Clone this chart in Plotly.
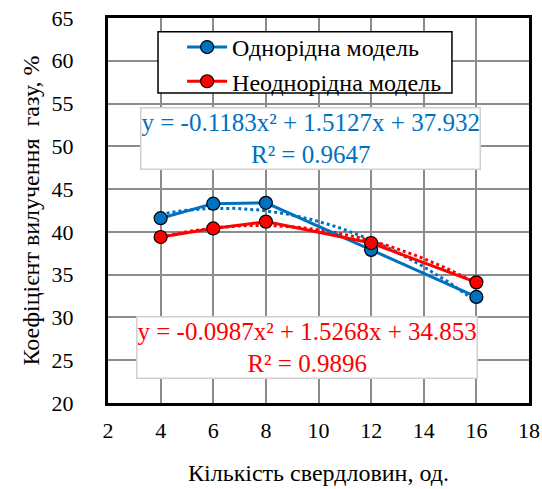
import numpy as np
import plotly.graph_objects as go

# Data
wells = [4, 6, 8, 12, 16]
homogeneous = [41.6, 43.3, 43.4, 37.9, 32.4]
heterogeneous = [39.4, 40.4, 41.2, 38.7, 34.1]
names = ["Однорідна модель", "Неоднорідна модель"]
# displayed trendline coefficients (a, b, c) for y = a x^2 + b x + c
coef_homog = [-0.1183, 1.5127, 37.932]
coef_heter = [-0.0987, 1.5268, 34.853]
r2_homog = 0.9647
r2_heter = 0.9896
x_ticks = [2, 4, 6, 8, 10, 12, 14, 16, 18]
y_ticks = [20, 25, 30, 35, 40, 45, 50, 55, 60, 65]

BLUE = "#0070C0"
RED = "#FF0000"
FONT = "Liberation Serif"

xt = np.linspace(min(wells), max(wells), 100)

def poly(c, x):
    return c[0] * x ** 2 + c[1] * x + c[2]

fig = go.Figure()
fig.add_trace(go.Scatter(x=xt, y=poly(coef_homog, xt), mode="lines",
                         line=dict(color=BLUE, width=3, dash="dot"),
                         showlegend=False, hoverinfo="skip"))
fig.add_trace(go.Scatter(x=xt, y=poly(coef_heter, xt), mode="lines",
                         line=dict(color=RED, width=3, dash="dot"),
                         showlegend=False, hoverinfo="skip"))
fig.add_trace(go.Scatter(x=wells, y=homogeneous, mode="lines+markers", name=names[0],
                         line=dict(color=BLUE, width=3),
                         marker=dict(size=13, color=BLUE, line=dict(color="black", width=1.2))))
fig.add_trace(go.Scatter(x=wells, y=heterogeneous, mode="lines+markers", name=names[1],
                         line=dict(color=RED, width=3),
                         marker=dict(size=13, color=RED, line=dict(color="black", width=1.2))))

def eq_text(c, r2):
    return (f"y = {c[0]:.4f}x² + {c[1]:.4f}x + {c[2]:.3f}<br>R² = {r2:.4f}")

fig.add_annotation(x=9.71, y=50.9, xref="x", yref="y", text=eq_text(coef_homog, r2_homog),
                   showarrow=False, font=dict(family=FONT, size=25, color=BLUE),
                   bgcolor="white", bordercolor="#d0d0d0", borderwidth=1.5, borderpad=0)
fig.add_annotation(x=9.56, y=26.5, xref="x", yref="y", text=eq_text(coef_heter, r2_heter),
                   showarrow=False, font=dict(family=FONT, size=25, color=RED),
                   bgcolor="white", bordercolor="#d0d0d0", borderwidth=1.5, borderpad=0)

# legend frame
fig.add_shape(type="rect", xref="paper", yref="paper",
              x0=0.1188, x1=0.817, y0=0.805, y1=0.964,
              line=dict(color="black", width=1.5), fillcolor="white", layer="above")

fig.update_layout(
    width=542, height=489,
    margin=dict(l=108, r=13, t=18, b=86),
    paper_bgcolor="white", plot_bgcolor="white",
    font=dict(family=FONT, size=22, color="black"),
    legend=dict(x=0.119, y=0.982, xanchor="left", yanchor="top",
                bgcolor="rgba(0,0,0,0)", borderwidth=0,
                font=dict(family=FONT, size=24), itemwidth=40,
                indentation=24, tracegroupgap=0),
    xaxis=dict(range=[2, 18], tickvals=x_ticks, showgrid=True, gridcolor="#8c8c8c", gridwidth=1.5,
               showline=True, linecolor="black", linewidth=3, mirror=True, zeroline=False,
               ticks="", ticklabelstandoff=6, automargin=False,
               tickfont=dict(family=FONT, size=22),
               title=dict(text="Кількість свердловин, од.", font=dict(family=FONT, size=24), standoff=22)),
    yaxis=dict(range=[20, 65], tickvals=y_ticks, showgrid=True, gridcolor="#8c8c8c", gridwidth=1.5,
               showline=True, linecolor="black", linewidth=3, mirror=True, zeroline=False,
               ticks="", ticklabelstandoff=27, automargin=False,
               tickfont=dict(family=FONT, size=22),
               title=dict(text="Коефіцієнт вилучення  газу, %", font=dict(family=FONT, size=24), standoff=6)),
)

fig.write_html("out.html", config={"displayModeBar": False},
               post_script="document.body.style.margin='0';")
